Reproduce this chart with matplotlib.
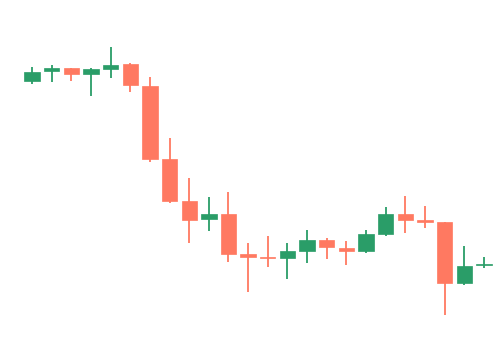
import numpy as np
import matplotlib
matplotlib.use('Agg')
import matplotlib.pyplot as plt

# candle data (price units)
opens = [283.0, 292.7, 295.7, 290.3, 295.3, 299.7, 278.3, 204.7, 163.3, 144.7,
         150.0, 109.7, 107.3, 105.7, 113.3, 123.7, 116.3, 112.7, 129.7, 150.0,
         143.7, 141.7, 81.0, 98.7]
closes = [292.3, 295.7, 290.3, 295.0, 299.3, 278.7, 204.7, 163.3, 144.3, 150.0,
          109.7, 107.0, 105.7, 113.0, 123.7, 116.7, 112.7, 129.7, 149.7, 144.0,
          141.7, 81.0, 98.0, 98.7]
highs = [297.3, 299.0, 296.3, 295.7, 317.3, 301.3, 286.7, 225.7, 185.7, 167.3,
         171.7, 121.3, 128.0, 120.7, 134.0, 126.3, 123.0, 133.7, 156.7, 168.3,
         158.3, 141.7, 118.3, 107.0]
lows = [279.7, 282.0, 283.3, 268.0, 286.3, 272.3, 202.3, 161.3, 120.7, 133.0,
        102.3, 72.3, 96.7, 85.3, 100.7, 104.7, 98.7, 111.0, 127.7, 130.7,
        136.3, 49.0, 79.3, 96.3]

up_color = '#2a9d68'
down_color = '#ff7961'

x = np.arange(len(opens))
o = np.array(opens)
c = np.array(closes)
h = np.array(highs)
l = np.array(lows)
up = c >= o
colors = np.where(up, up_color, down_color)

fig = plt.figure(figsize=(5, 3.64), dpi=100)
ax = fig.add_axes([0, 0, 1, 1])

# wicks
ax.vlines(x, l, h, colors=colors, linewidth=1.3, zorder=1)

# bodies
body_bottom = np.minimum(o, c)
body_height = np.maximum(np.abs(c - o), 1.2)
ax.bar(x, body_height, bottom=body_bottom, width=0.78, color=colors,
       edgecolor=colors, linewidth=0.5, zorder=2)

ax.set_xlim(-1.63, 23.82)
ax.set_ylim(0, 364)
ax.axis('off')

fig.savefig('out.png', dpi=100, facecolor='white')
